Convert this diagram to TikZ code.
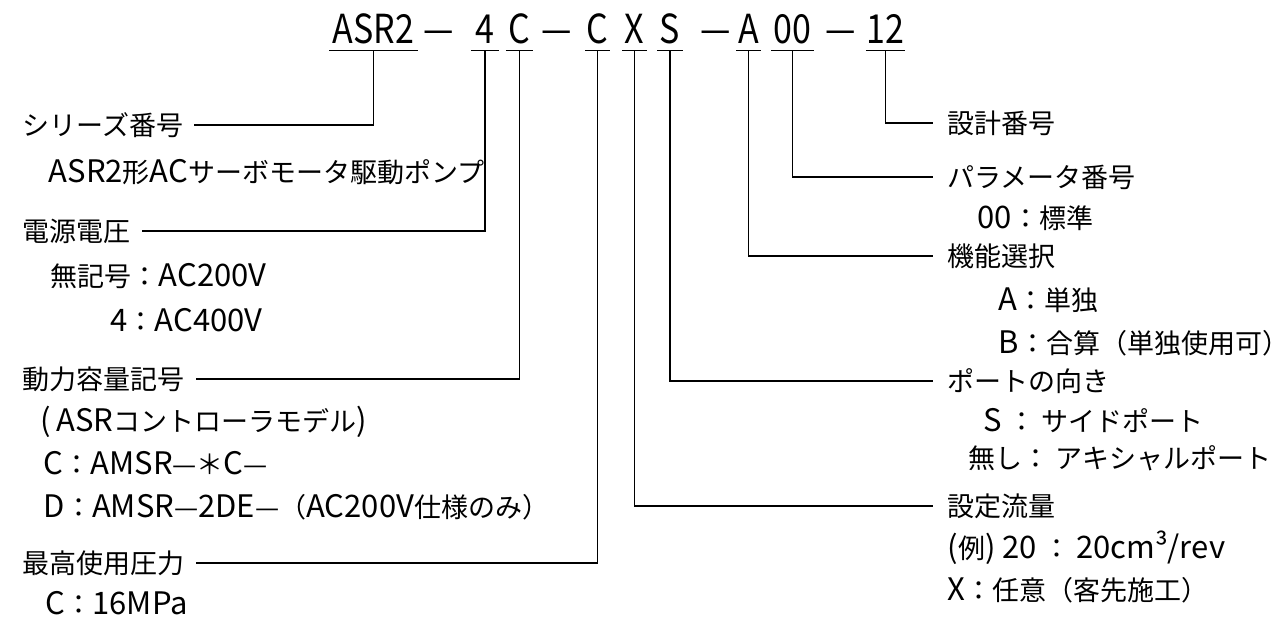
\documentclass[tikz,border=0pt]{standalone}
\usepackage{fontspec}
\setmainfont{Noto Sans CJK JP}
\newfontfamily\codefont[FakeStretch=0.85]{Noto Sans CJK JP}
\newcommand\lt[1]{{\fontsize{31}{34}\selectfont #1}}
\usepackage{tikz}

\begin{document}
\begin{tikzpicture}[x=1pt, y=-1pt, line width=1.5pt,
  code/.style={font=\codefont\fontsize{40}{44}\selectfont, anchor=base, inner sep=0pt, text depth=6pt},
  lbl/.style={font=\fontsize{27}{30}\selectfont, anchor=west, inner sep=0pt, text height=20.5pt, text depth=0pt}]
  \useasboundingbox (0,0) rectangle (1287,628);

  % model code
  \node[code, minimum width=87pt] (A) at (373.5,44) {ASR2};
  \node[code] (d1) at (439,44) {—};
  \node[code, minimum width=27pt] (B) at (485,44) {4};
  \node[code, minimum width=26pt] (C) at (519.5,44) {C};
  \node[code] (d2) at (557,44) {—};
  \node[code, minimum width=23pt] (D) at (597.5,44) {C};
  \node[code, minimum width=23pt] (E) at (634.5,44) {X};
  \node[code, minimum width=24pt] (F) at (670,44) {S};
  \node[code] (d3) at (716,44) {—};
  \node[code, minimum width=23pt] (G) at (748.5,44) {A};
  \node[code, minimum width=41pt] (H) at (792.5,44) {00};
  \node[code] (d4) at (841,44) {—};
  \node[code, minimum width=35pt] (I) at (885.5,44) {12};

  \foreach \n in {A,B,C,D,E,F,G,H,I}
    \draw (\n.south west) -- (\n.south east);

  % left side
  \node[lbl] (LA) at (22,125) {シリーズ番号};
  \node[lbl] (LA1) at (48,172) {\lt{ASR2}形\lt{AC}サーボモータ駆動ポンプ};

  \node[lbl] (LB) at (22,231) {電源電圧};
  \node[lbl] (LB1) at (50,276) {無記号：\lt{AC200V}};
  \node[lbl] (LB2) at (110,321) {\lt{4}：\lt{AC400V}};

  \node[lbl] (LC) at (22,379) {動力容量記号};
  \node[lbl] (LC1) at (40,421) {\lt{(\,ASR}コントローラモデル\lt{)}};
  \node[lbl] (LC2) at (43,464) {\lt{C}：\lt{AMSR}—＊\lt{C}—};
  \node[lbl] (LC3) at (43,507) {\lt{D}：\lt{AMSR}—\lt{2DE}—（\lt{AC200V}仕様のみ）};

  \node[lbl] (LD) at (22,563) {最高使用圧力};
  \node[lbl] (LD1) at (45,604) {\lt{C}：\lt{16MPa}};

  % right side
  \node[lbl] (LI) at (947,123) {設計番号};

  \node[lbl] (LH) at (947,177) {パラメータ番号};
  \node[lbl] (LH1) at (977,218) {\lt{00}：標準};

  \node[lbl] (LG) at (947,256) {機能選択};
  \node[lbl] (LG1) at (998,300) {\lt{A}：単独};
  \node[lbl] (LG2) at (998,343) {\lt{B}：合算（単独使用可）};

  \node[lbl] (LF) at (947,381) {ポートの向き};
  \node[lbl] (LF1) at (983,421) {\lt{S} ： サイドポート};
  \node[lbl] (LF2) at (968,458) {無し： アキシャルポート};

  \node[lbl] (LE) at (947,506) {設定流量};
  \node[lbl] (LE1) at (947,548) {\lt{(}例\lt{) 20} ： \lt{20cm³/rev}};
  \node[lbl] (LE2) at (947,590) {\lt{X}：任意（客先施工）};

  \draw[shorten >=10pt] (A.south) |- (LA.east);
  \draw[shorten >=10pt] (B.south) |- (LB.east);
  \draw[shorten >=10pt] (C.south) |- (LC.east);
  \draw[shorten >=10pt] (D.south) |- (LD.east);
  \draw[shorten >=14pt] (E.south) |- (LE.west);
  \draw[shorten >=14pt] (F.south) |- (LF.west);
  \draw[shorten >=14pt] (G.south) |- (LG.west);
  \draw[shorten >=14pt] (H.south) |- (LH.west);
  \draw[shorten >=14pt] (I.south) |- (LI.west);
\end{tikzpicture}
\end{document}
